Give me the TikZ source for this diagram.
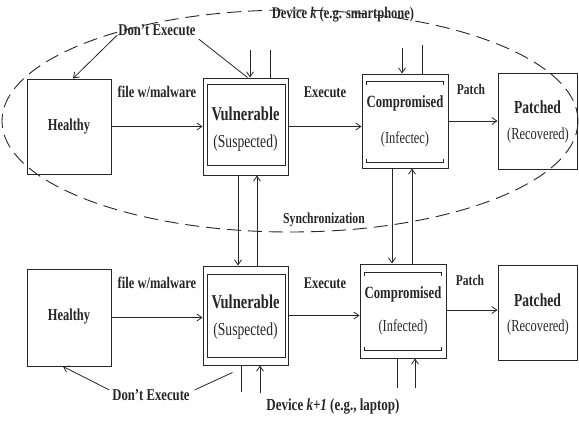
\documentclass[tikz,border=0pt]{standalone}
\usepackage{fontspec}
\setmainfont{Liberation Serif}
\usetikzlibrary{arrows.meta}
\begin{document}
\begin{tikzpicture}[x=1pt,y=-1pt,
  box/.style={draw=black!85, line width=1pt, inner sep=0pt},
  ln/.style={draw=black!85, line width=0.8pt},
  arr/.style={draw=black!85, line width=0.8pt, -{Straight Barb[length=5pt,width=7pt]}},
  lbl/.style={font=\bfseries\fontsize{12.5}{14}\selectfont, inner sep=1pt, text=black!85, yscale=1.3},
  ttl/.style={font=\bfseries\fontsize{#1}{#1}\selectfont, inner sep=1pt, text=black!85, yscale=1.35},
  sub/.style={font=\fontsize{#1}{#1}\selectfont, inner sep=1pt, text=black!85, yscale=1.35},
  ell/.style={draw=black!85, line width=0.9pt, dash pattern=on 14pt off 7pt},
]
\useasboundingbox (0,0) rectangle (579,426);

% ---------- dashed ellipse (device k) ----------
\draw[ell] (290,121) ellipse [x radius=288pt, y radius=111pt];

% ---------- top row boxes ----------
\node[box, minimum width=84pt, minimum height=95pt] (hT) at (69,126.5) {};
\node[box, minimum width=85pt, minimum height=97pt] (vT) at (245.5,126.5) {};
\draw[ln] ([shift={(5,7)}]vT.north west) rectangle ([shift={(-3,-10)}]vT.south east);
\node[box, minimum width=86pt, minimum height=94pt] (cT) at (405,121) {};
\draw[ln] ([shift={(5,11)}]cT.north west) -- ++(0,-3) -- ([shift={(-5,8)}]cT.north east) -- ++(0,3);
\draw[ln] ([shift={(5,-10)}]cT.south west) -- ++(0,4) -- ([shift={(-5,-6)}]cT.south east) -- ++(0,-4);
\node[box, minimum width=79pt, minimum height=96pt] (pT) at (537.5,121) {};

\node[ttl=12.4] (hTa) at (69,126) {Healthy};
\node[ttl=14.5] (vTa) at (245.5,114) {Vulnerable};
\node[sub=13.6] (vTb) at (245.5,143) {(Suspected)};
\node[ttl=12.7] (cTa) at (405,103) {Compromised};
\node[sub=12.4] (cTb) at (405,139) {(Infectec)};
\node[ttl=13.6] (pTa) at (537.5,107) {Patched};
\node[sub=12.5] (pTb) at (538,135) {(Recovered)};

% ---------- bottom row boxes ----------
\node[box, minimum width=84pt, minimum height=97pt] (hB) at (69,317.5) {};
\node[box, minimum width=85pt, minimum height=99pt] (vB) at (245.5,315.5) {};
\draw[ln] ([shift={(5,9)}]vB.north west) rectangle ([shift={(-3,-8)}]vB.south east);
\node[box, minimum width=86pt, minimum height=94pt] (cB) at (403,311) {};
\draw[ln] ([shift={(5,12)}]cB.north west) -- ++(0,-3) -- ([shift={(-5,9)}]cB.north east) -- ++(0,3);
\draw[ln] ([shift={(5,-12)}]cB.south west) -- ++(0,4) -- ([shift={(-5,-8)}]cB.south east) -- ++(0,-4);
\node[box, minimum width=79pt, minimum height=95pt] (pB) at (537.5,312.5) {};

\node[ttl=12.4] (hBa) at (69,316) {Healthy};
\node[ttl=14.5] (vBa) at (245.5,302) {Vulnerable};
\node[sub=13.6] (vBb) at (245.5,331) {(Suspected)};
\node[ttl=12.7] (cBa) at (403,294) {Compromised};
\node[sub=12.4] (cBb) at (403,327) {(Infected)};
\node[ttl=13.6] (pBa) at (537.5,300) {Patched};
\node[sub=12.5] (pBb) at (538,327) {(Recovered)};

% ---------- horizontal transitions ----------
\draw[arr] (hT.east) -- (vT.west);
\draw[arr] (vT.east) -- (vT.east -| cT.west);
\draw[arr] (cT.east) -- (pT.west);
\draw[arr] (hB.east) -- (hB.east -| vB.west);
\draw[arr] (vB.east) -- (vB.east -| cB.west);
\draw[arr] ([yshift=1pt]cB.east) -- ([yshift=1pt]cB.east -| pB.west);

\node[lbl] (fT) at (157,92) {file w/malware};
\node[lbl] (eT) at (325,92) {Execute};
\node[lbl, font=\bfseries\fontsize{11.5}{13}\selectfont] (paT) at (471,89) {Patch};
\node[lbl] (fB) at (157,283) {file w/malware};
\node[lbl] (eB) at (325,283) {Execute};
\node[lbl, font=\bfseries\fontsize{11.5}{13}\selectfont] (paB) at (470,280) {Patch};

% ---------- Don't Execute ----------
\node[lbl, font=\bfseries\fontsize{12.7}{14}\selectfont] (dT) at (157,30) {Don't Execute};
\draw[ln] ([xshift=2pt]vT.north) -- ([shift={(2,2)}]dT.south east);
\draw[arr] ([shift={(0,-2)}]dT.south west) -- ([xshift=4pt]hT.north);
\node[lbl, font=\bfseries\fontsize{12.7}{14}\selectfont] (dB) at (151,395) {Don't Execute};
\draw[ln] ([shift={(30,7)}]vB.south west) -- ([shift={(4,2)}]dB.north east);
\draw[arr] ([shift={(-2,2)}]dB.north west) -- ([xshift=-6pt]hB.south);

% ---------- synchronization between devices ----------
\draw[arr] ([xshift=-7.5pt]vT.south) -- ([xshift=-7.5pt]vT.south |- vB.north);
\draw[arr] ([xshift=11.5pt]vB.north) -- ([xshift=11.5pt]vB.north |- vT.south);
\draw[arr] ([xshift=-13pt]cT.south) -- ([xshift=-13pt]cT.south |- cB.north);
\draw[arr] ([xshift=9pt]cB.north) -- ([xshift=9pt]cB.north |- cT.south);
\node[lbl, font=\bfseries\fontsize{11.7}{13}\selectfont] (sync) at (324,220) {Synchronization};

% ---------- stubs to other devices ----------
\coordinate (sv1) at (250,50);
\coordinate (sv2) at (270,50);
\coordinate (sc1) at (402,48);
\coordinate (sc2) at (422,45);
\draw[arr] (sv1) -- (sv1 |- vT.north);
\draw[ln] (sv2) -- (sv2 |- vT.north);
\draw[arr] (sc1) -- (sc1 |- cT.north);
\draw[ln] (sc2) -- (sc2 |- cT.north);

\coordinate (bv1) at (241,392);
\coordinate (bv2) at (260,393);
\coordinate (bc1) at (397,388);
\coordinate (bc2) at (415,388);
\draw[ln] (bv1 |- vB.south) -- (bv1);
\draw[arr] (bv2) -- (bv2 |- vB.south);
\draw[ln] (bc1 |- cB.south) -- (bc1);
\draw[arr] (bc2) -- (bc2 |- cB.south);

% ---------- device labels ----------
\node[lbl] (devk) at (343,15) {Device \textit{k} (e.g. smartphone)};
\node[lbl, font=\bfseries\fontsize{13}{15}\selectfont] (devk1) at (333,406) {Device \textit{k+1} (e.g., laptop)};
\end{tikzpicture}
\end{document}
